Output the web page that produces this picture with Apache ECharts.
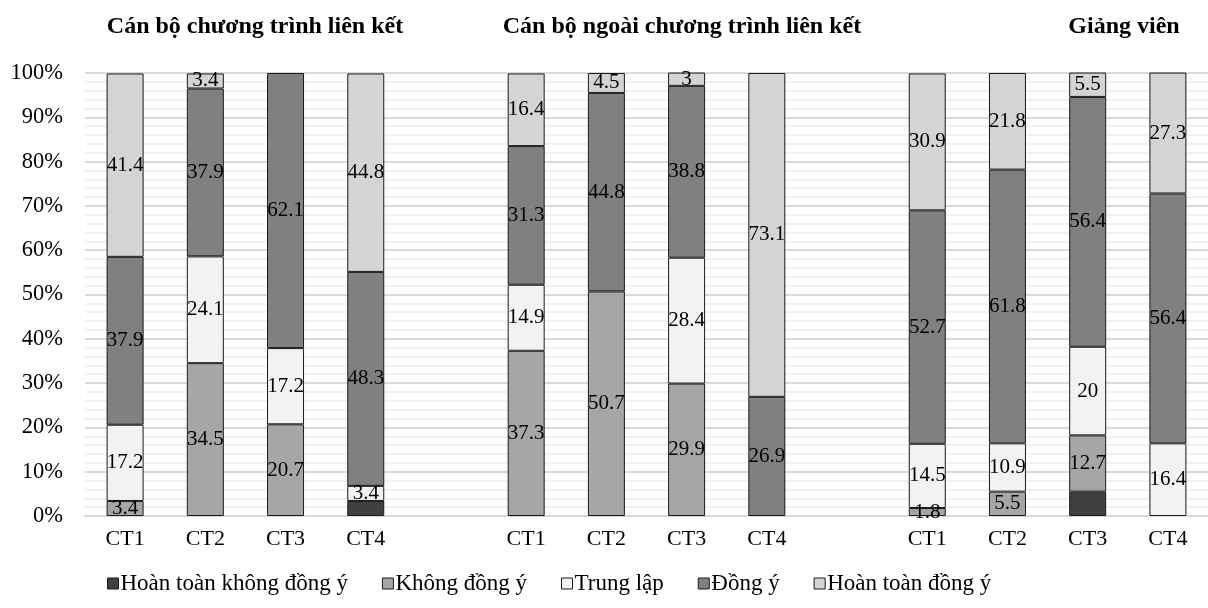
<!DOCTYPE html>
<html>
<head>
<meta charset="utf-8">
<script src="https://cdn.jsdelivr.net/npm/echarts@6/dist/echarts.min.js"></script>
<style>html,body{margin:0;padding:0;background:#fff;}#c{width:1208px;height:608px;}</style>
</head>
<body>
<div id="c"></div>
<script>
var categories = ['CT1','CT2','CT3','CT4','','CT1','CT2','CT3','CT4','','CT1','CT2','CT3','CT4'];
var groupTitles = ['Cán bộ chương trình liên kết', 'Cán bộ ngoài chương trình liên kết', 'Giảng viên'];
var seriesNames = ['Hoàn toàn không đồng ý', 'Không đồng ý', 'Trung lập', 'Đồng ý', 'Hoàn toàn đồng ý'];
// per series: group1 CT1..CT4, gap, group2 CT1..CT4, gap, group3 CT1..CT4
var hoanToanKhongDongY = [0, 0, 0, 3.4, null, 0, 0, 0, 0, null, 0, 0, 5.5, 0];
var khongDongY       = [3.4, 34.5, 20.7, 0, null, 37.3, 50.7, 29.9, 0, null, 1.8, 5.5, 12.7, 0];
var trungLap         = [17.2, 24.1, 17.2, 3.4, null, 14.9, 0, 28.4, 0, null, 14.5, 10.9, 20, 16.4];
var dongY            = [37.9, 37.9, 62.1, 48.3, null, 31.3, 44.8, 38.8, 26.9, null, 52.7, 61.8, 56.4, 56.4];
var hoanToanDongY    = [41.4, 3.4, 0, 44.8, null, 16.4, 4.5, 3, 73.1, null, 30.9, 21.8, 5.5, 27.3];
var yTicks = [0,10,20,30,40,50,60,70,80,90,100];

var values = [hoanToanKhongDongY, khongDongY, trungLap, dongY, hoanToanDongY];
var colors = ['#404040', '#a6a6a6', '#f2f2f2', '#808080', '#d4d4d4'];
var showLabel = [false, true, true, true, true];
var FONT = '"Liberation Serif", "Times New Roman", serif';

var series = values.map(function (arr, i) {
  return {
    name: seriesNames[i],
    type: 'bar',
    stack: 'all',
    barWidth: 37,
    data: arr.map(function (v) { return (v === null || v === 0) ? '-' : v; }),
    itemStyle: { color: colors[i], borderColor: '#1a1a1a', borderWidth: 1 },
    label: {
      show: showLabel[i],
      position: 'inside',
      color: '#000',
      fontFamily: FONT,
      fontSize: 21,
      formatter: function (p) { return p.value; }
    },
    emphasis: { disabled: true }
  };
});

var titleCenters = [250, 677, 1119];
var chart = echarts.init(document.getElementById('c'), null, { renderer: 'canvas' });
chart.setOption({
  animation: false,
  title: groupTitles.map(function (t, i) {
    return {
      text: t, left: titleCenters[i], top: 10, textAlign: 'center',
      textStyle: { fontFamily: FONT, fontWeight: 'bold', fontSize: 24, color: '#000' }
    };
  }),
  legend: {
    left: 102, top: 567, itemWidth: 11, itemHeight: 11, itemGap: 34,
    icon: 'rect',
    textStyle: { fontFamily: FONT, fontSize: 23, color: '#000', padding: [0,0,0,-3] },
    data: seriesNames.map(function (n, i) {
      return { name: n, itemStyle: { color: colors[i], borderColor: '#1a1a1a', borderWidth: 1 } };
    })
  },
  grid: { left: 85, top: 73, width: 1127, bottom: 92, containLabel: false },
  xAxis: {
    type: 'category',
    data: categories,
    axisTick: { show: false },
    axisLine: { lineStyle: { color: '#d9d9d9', width: 2 } },
    axisLabel: { fontFamily: FONT, fontSize: 22, color: '#000', margin: 12, interval: 0 }
  },
  yAxis: {
    type: 'value', min: 0, max: 100, interval: 10,
    axisLine: { show: false }, axisTick: { show: false },
    axisLabel: { fontFamily: FONT, fontSize: 22.5, color: '#000', margin: 22,
      formatter: function (v) { return yTicks.indexOf(v) >= 0 ? v + '%' : ''; } },
    splitLine: { lineStyle: { color: '#d9d9d9', width: 2 } },
    minorTick: { show: false, splitNumber: 5 },
    minorSplitLine: { show: true, lineStyle: { color: '#ededed', width: 1.5 } }
  },
  series: series
});
</script>
</body>
</html>
